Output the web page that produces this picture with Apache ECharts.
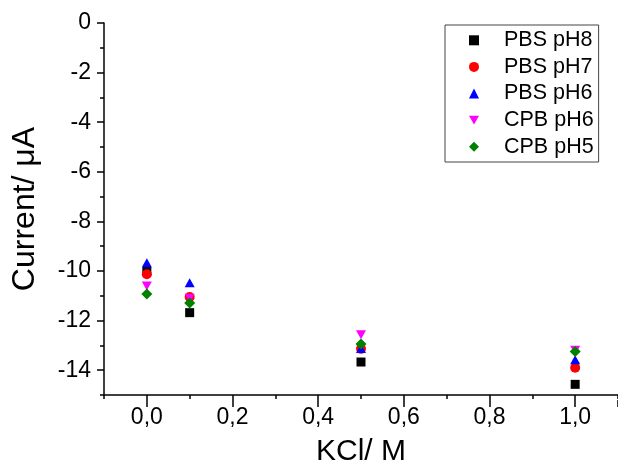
<!DOCTYPE html>
<html>
<head>
<meta charset="utf-8">
<script src="https://cdn.jsdelivr.net/npm/echarts@6/dist/echarts.min.js"></script>
<style>
html,body{margin:0;padding:0;background:#fff;}
#chart{width:618px;height:472px;}
</style>
</head>
<body>
<div id="chart"></div>
<script>
var kcl = [0, 0.1, 0.5, 1.0];
var seriesNames = ['PBS pH8', 'PBS pH7', 'PBS pH6', 'CPB pH6', 'CPB pH5'];
var pbsPH8 = [-10.02, -11.68, -13.67, -14.57];
var pbsPH7 = [-10.13, -11.05, -13.14, -13.90];
var pbsPH6 = [-9.67, -10.47, -13.12, -13.58];
var cpbPH6 = [-10.60, -11.10, -12.57, -13.20];
var cpbPH5 = [-10.93, -11.29, -12.94, -13.25];
var xTickValues = [0, 0.2, 0.4, 0.6, 0.8, 1.0];
var yTickValues = [0, -2, -4, -6, -8, -10, -12, -14];

var FONT = '"Liberation Sans", Arial, sans-serif';
var values = [pbsPH8, pbsPH7, pbsPH6, cpbPH6, cpbPH5];
var colors = ['#000000', '#ff0000', '#0000ff', '#ff00ff', '#008000'];
var symbols = ['rect', 'circle', 'triangle', 'path://M0,0L10,0L5,8.7Z', 'diamond'];
var sizes = [9, 10, [10, 9], [10, 9], 11];

var X_MIN = -0.1, X_MAX = 1.1, Y_MIN = -15, Y_MAX = 0;
var GRID_LEFT = 104, GRID_RIGHT = 0, GRID_TOP = 23, GRID_BOTTOM = 72;
var PLOT_W = 618 - GRID_LEFT - GRID_RIGHT;
// decoration grid for major x ticks starting at x = 0
var majorGridLeft = GRID_LEFT + (0 - X_MIN) / (X_MAX - X_MIN) * PLOT_W;

function pairs(arr) {
  return kcl.map(function (x, i) { return [x, arr[i]]; });
}

var series = seriesNames.map(function (n, i) {
  return {
    name: n,
    type: 'scatter',
    xAxisIndex: 0,
    yAxisIndex: 0,
    symbol: symbols[i],
    symbolSize: sizes[i],
    itemStyle: { color: colors[i], opacity: 1 },
    data: pairs(values[i]),
    z: 2 + i
  };
});

var axisLineStyle = { color: '#000', width: 1.5 };

var option = {
  backgroundColor: '#ffffff',
  animation: false,
  textStyle: { fontFamily: FONT },
  grid: [
    { left: GRID_LEFT, top: GRID_TOP, right: GRID_RIGHT, bottom: GRID_BOTTOM, containLabel: false },
    { left: majorGridLeft, top: GRID_TOP, right: GRID_RIGHT, bottom: GRID_BOTTOM, containLabel: false }
  ],
  legend: {
    left: 445, top: 25,
    orient: 'vertical',
    data: seriesNames,
    itemWidth: 10, itemHeight: 10,
    itemGap: 0,
    padding: [2, 5, 2, 24],
    borderColor: '#444', borderWidth: 1,
    backgroundColor: '#fff',
    selectedMode: false,
    textStyle: { fontFamily: FONT, fontSize: 21.5, color: '#000', lineHeight: 26.6, padding: [0, 0, 0, 20] }
  },
  xAxis: [
    {
      type: 'value', min: X_MIN, max: X_MAX, position: 'bottom', gridIndex: 0,
      name: 'KCl/ M', nameLocation: 'middle', nameGap: 42,
      nameTextStyle: { fontFamily: FONT, fontSize: 30, color: '#000' },
      axisLine: { show: true, onZero: false, lineStyle: axisLineStyle },
      axisTick: { show: true, inside: false, length: 7, lineStyle: axisLineStyle, customValues: xTickValues },
      axisLabel: { show: true, margin: 11, fontFamily: FONT, fontSize: 23, color: '#000', customValues: xTickValues,
        formatter: function (v) { return Number(v).toFixed(1).replace('.', ','); } },
      splitLine: { show: false }
    },
    {
      type: 'value', min: X_MIN, max: X_MAX, interval: 0.1, position: 'bottom', gridIndex: 0,
      axisLine: { show: false, onZero: false },
      axisTick: { show: true, inside: false, length: 4, lineStyle: axisLineStyle },
      axisLabel: { show: false },
      splitLine: { show: false }
    },
    {
      type: 'value', min: 0, max: X_MAX, interval: 0.2, position: 'bottom', gridIndex: 1,
      axisLine: { show: false, onZero: false },
      axisTick: { show: true, inside: false, length: 7, lineStyle: axisLineStyle },
      axisLabel: { show: false },
      splitLine: { show: false }
    }
  ],
  yAxis: [
    {
      type: 'value', min: Y_MIN, max: Y_MAX, position: 'left', gridIndex: 0,
      name: 'Current/ μA', nameLocation: 'middle', nameGap: 63,
      nameTextStyle: { fontFamily: FONT, fontSize: 32, color: '#000' },
      axisLine: { show: true, onZero: false, lineStyle: axisLineStyle },
      axisTick: { show: true, inside: false, length: 7, lineStyle: axisLineStyle, customValues: yTickValues },
      axisLabel: { show: true, margin: 13, fontFamily: FONT, fontSize: 23, color: '#000', customValues: yTickValues },
      splitLine: { show: false }
    },
    {
      type: 'value', min: Y_MIN, max: Y_MAX, interval: 1, position: 'left', gridIndex: 0,
      axisLine: { show: false, onZero: false },
      axisTick: { show: true, inside: false, length: 4, lineStyle: axisLineStyle },
      axisLabel: { show: false },
      splitLine: { show: false }
    },
    {
      type: 'value', min: Y_MIN, max: Y_MAX, position: 'left', gridIndex: 1, show: false
    }
  ],
  series: series
};

var chart = echarts.init(document.getElementById('chart'), null, { renderer: 'canvas' });
chart.setOption(option);
</script>
</body>
</html>
